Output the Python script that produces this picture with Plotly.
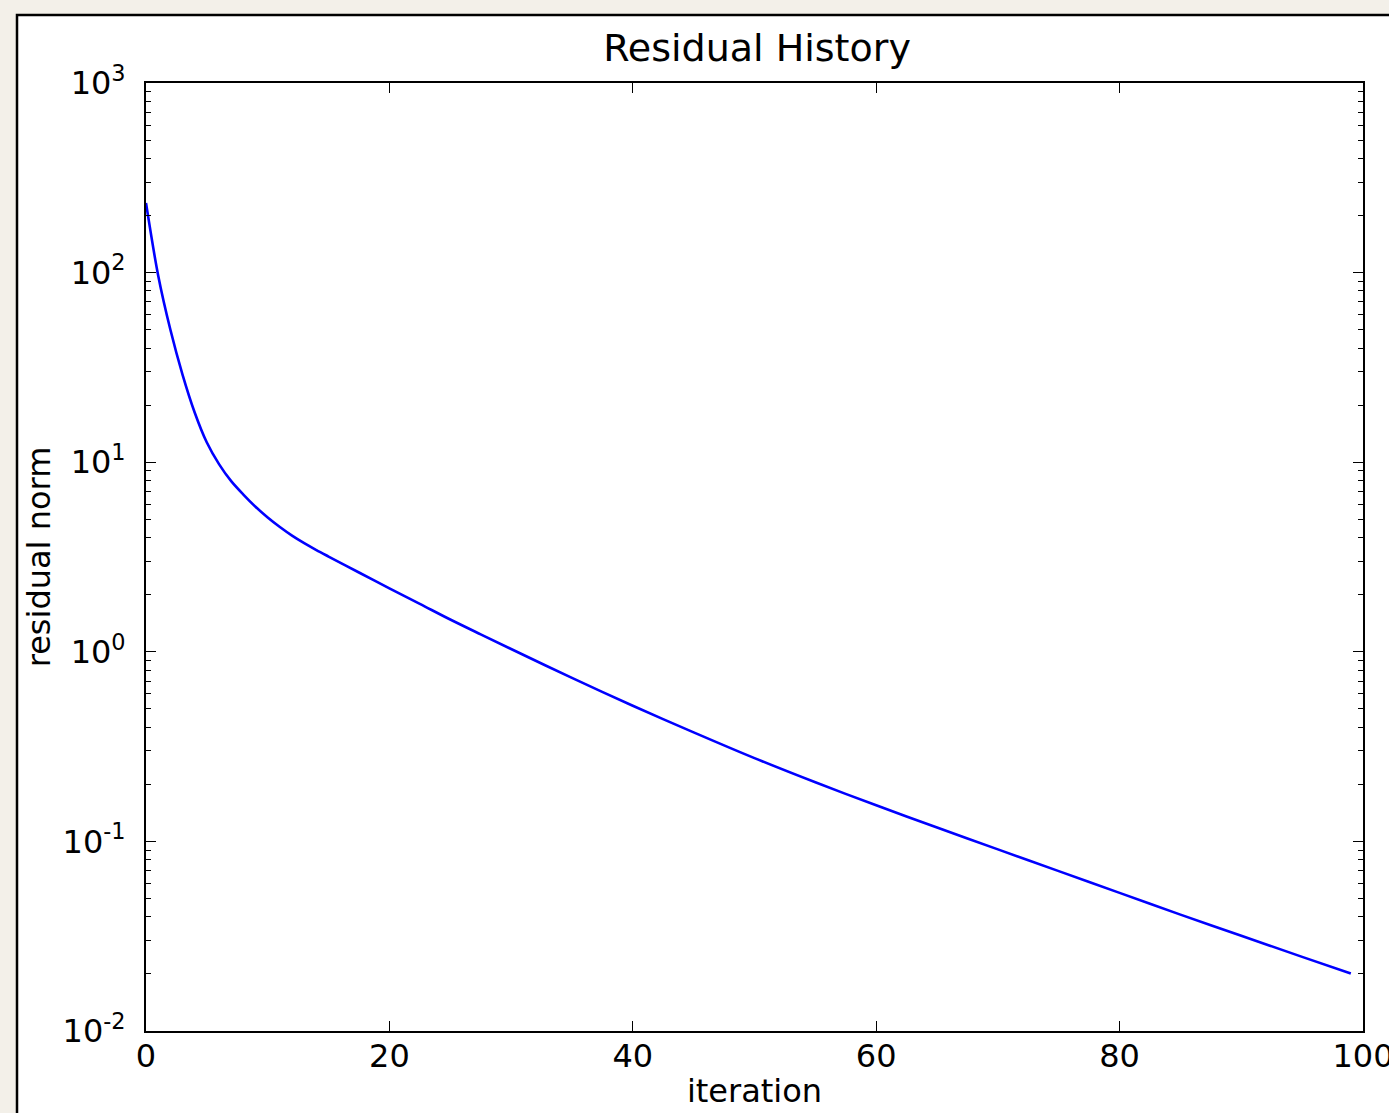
import plotly.graph_objects as go

# Values
iteration = [0, 1, 2, 3, 4, 5, 6, 7, 8, 9, 10, 11, 12, 13, 14, 15, 17.5, 20, 22.5, 25,
             27.5, 30, 35, 40, 45, 50, 55, 60, 65, 70, 75, 80, 85, 90, 95, 99]
residual = [232.8, 96.6, 50.1, 29.0, 18.3, 12.7, 9.77, 7.94, 6.75, 5.82, 5.11, 4.55,
            4.10, 3.74, 3.44, 3.18, 2.62, 2.16, 1.79, 1.48, 1.236, 1.035, 0.728, 0.519,
            0.376, 0.275, 0.205, 0.155, 0.1183, 0.0908, 0.0697, 0.0535, 0.0411, 0.0318,
            0.0246, 0.0201]

y_tick_vals = [1e-2, 1e-1, 1e0, 1e1, 1e2, 1e3]
y_tick_text = ["10<sup>-2</sup>", "10<sup>-1</sup>", "10<sup>0</sup>",
               "10<sup>1</sup>", "10<sup>2</sup>", "10<sup>3</sup>"]
x_tick_vals = [0, 20, 40, 60, 80, 100]
x_tick_text = ["0", "20", "40", "60", "80", "100"]

minor_vals = [m * 10 ** e for e in range(-2, 3) for m in range(2, 10)]

W, H = 1389, 1113
L, R, T, B = 146, 1389 - 1363, 83, 1113 - 1031
pw, ph = W - L - R, H - T - B

fig = go.Figure()
fig.add_trace(go.Scatter(x=iteration, y=residual, mode="lines", line_shape="spline",
                         line=dict(color="#0000ff", width=2.6, smoothing=0.9),
                         showlegend=False))

font = dict(family="DejaVu Sans", size=32, color="black")

fig.update_layout(
    width=W, height=H,
    margin=dict(l=L, r=R, t=T, b=B, autoexpand=False),
    paper_bgcolor="#f3f0e9",
    plot_bgcolor="white",
    font=font,
    title=dict(text="Residual History", x=757 / W, xanchor="center",
               y=1 - 48 / H, yanchor="middle", yref="container",
               font=dict(family="DejaVu Sans", size=38, color="black")),
    shapes=[dict(type="rect", xref="paper", yref="paper", layer="below",
                 x0=(17 - L) / pw, x1=1.1, y0=-0.2, y1=(H - B - 15) / ph,
                 fillcolor="white", line=dict(color="black", width=2.5))],
    xaxis=dict(range=[0, 100], tickmode="array", tickvals=x_tick_vals, ticktext=x_tick_text,
               ticks="inside", ticklen=10, tickwidth=1, tickcolor="black",
               showline=True, linecolor="black", linewidth=2, mirror="ticks",
               showgrid=False, zeroline=False, ticklabelstandoff=-4,
               ticklabeloverflow="allow",
               title=dict(text="iteration", standoff=5, font=font)),
    yaxis=dict(type="log", range=[-2, 3], tickmode="array", tickvals=y_tick_vals,
               ticktext=y_tick_text,
               ticks="inside", ticklen=10, tickwidth=1, tickcolor="black",
               showline=True, linecolor="black", linewidth=2, mirror="ticks",
               showgrid=False, zeroline=False, ticklabelstandoff=12,
               minor=dict(tickmode="array", tickvals=minor_vals, ticks="inside",
                          ticklen=5, tickwidth=1, tickcolor="black", showgrid=False),
               title=dict(text="residual norm", standoff=2, font=font)),
)

fig.write_html("out.html", config={"displayModeBar": False},
               post_script="document.body.style.margin='0';document.body.style.background='#f3f0e9';")
